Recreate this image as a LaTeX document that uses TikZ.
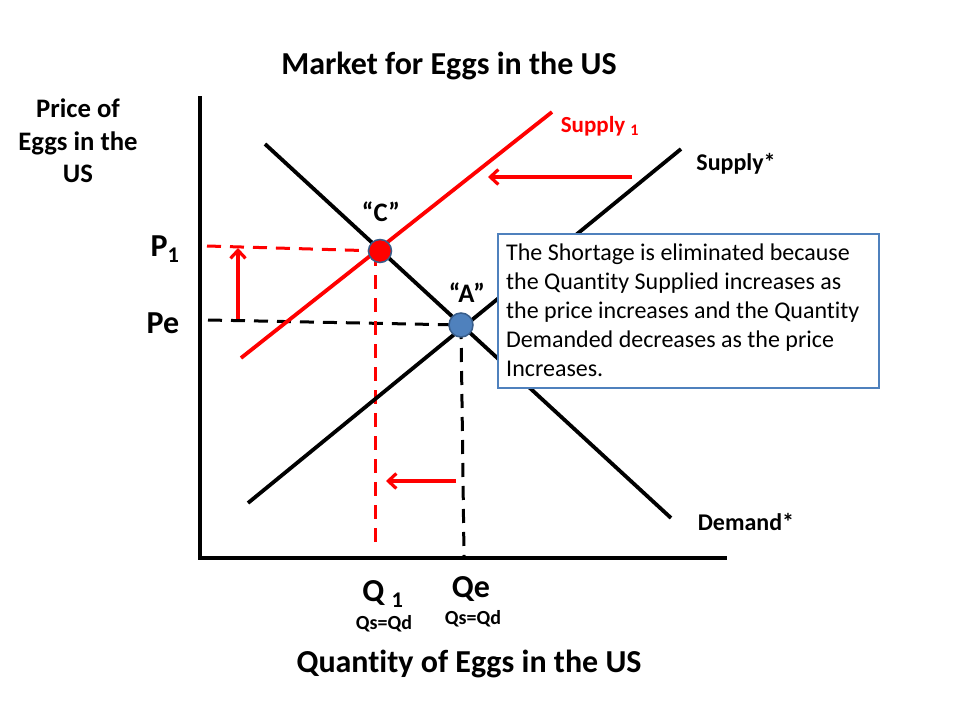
\documentclass[tikz,border=0pt]{standalone}
\usepackage{fontspec}
\setmainfont{Carlito}[Ligatures=NoCommon]
\usetikzlibrary{arrows.meta}
\definecolor{myred}{RGB}{255,0,0}
\definecolor{myblue}{RGB}{79,129,189}
\definecolor{mydblue}{RGB}{56,93,138}
\newcommand{\fs}[2]{\fontsize{#1}{#2}\selectfont}
\begin{document}
\begin{tikzpicture}[x=1pt,y=-1pt,
  axis/.style={line width=4.5pt},
  curve/.style={line width=3.8pt},
  redcurve/.style={line width=3.8pt,myred},
  guide/.style={line width=3pt,dash pattern=on 14pt off 9pt},
  redarrow/.style={line width=3.2pt,myred,-{Straight Barb[length=8pt,width=15pt,line width=3.2pt]}},
  lbl/.style={inner sep=0pt,font=\bfseries},
  pt/.style={circle,inner sep=0pt,minimum size=24pt,draw=mydblue,line width=1.5pt}]
\useasboundingbox (0,0) rectangle (960,720);
\fill[white] (0,0) rectangle (960,720);
% coordinates
\coordinate (O) at (200,558);
\coordinate (ytop) at (200,96);
\coordinate (xend) at (727,558);
\coordinate (D1) at (265,144);
\coordinate (D2) at (671,518);
\coordinate (S1) at (248,503);
\coordinate (S2) at (681,149);
\coordinate (R1) at (241,358);
\coordinate (R2) at (552,112);
\coordinate (P1L) at (207,246);
\coordinate (PeL) at (208,320);
\coordinate (Q1B) at (375,542);
\coordinate (QeB) at (464,556);
\coordinate (Cc) at (380,251);
\coordinate (Ac) at (461,325);
\coordinate (Cv) at (375,252);
\coordinate (a1s) at (632,177);
\coordinate (a1e) at (488,177);
\coordinate (a2s) at (456,481);
\coordinate (a2e) at (386,481);
\coordinate (a3s) at (238,319);
\coordinate (a3e) at (238,248);
% axes
\draw[axis] (ytop) -- (O) -- (xend);
% dashed guides
\draw[guide] (PeL) -- (Ac);
\draw[guide] (Ac) -- (QeB);
\draw[guide,myred] (P1L) -- (Cc);
\draw[guide,myred] (Cv) -- (Q1B);
% curves
\draw[curve] (D1) -- (D2);
\draw[curve] (S1) -- (S2);
\draw[redcurve] (R1) -- (R2);
% text box
\node[draw=myblue,line width=2pt,fill=white,anchor=north west,minimum width=381pt,minimum height=154pt,inner sep=0pt] (box) at (497,233) {};
\node[anchor=north west,align=left,inner sep=0pt,font=\fs{24}{28.8}] (boxtxt) at (506,244) {The Shortage is eliminated because\\the Quantity Supplied increases as\\the price increases and the Quantity\\Demanded decreases as the price\\Increases.};
% points
\node[pt,fill=myred,minimum size=23pt] (C) at (Cc) {};
\node[pt,fill=myblue] (A) at (Ac) {};
% arrows
\draw[redarrow] (a1s) -- (a1e);
\draw[redarrow] (a2s) -- (a2e);
\draw[redarrow] (a3s) -- (a3e);
% labels
\node[lbl,font=\bfseries\fs{32}{38}] (title) at (449,66) {Market for Eggs in the US};
\node[lbl,font=\bfseries\fs{26.7}{32.5},align=center] (ylab) at (78,141) {Price of\\Eggs in the\\US};
\node[lbl,font=\bfseries\fs{32}{38}] (P1) at (165,249) {P\textsubscript{1}};
\node[lbl,font=\bfseries\fs{32}{38}] (Pe) at (163,323) {Pe};
\node[lbl,font=\bfseries\fs{26.7}{32}] (Clab) at (381,212) {“C”};
\node[lbl,font=\bfseries\fs{26.7}{32}] (Alab) at (467,293) {“A”};
\node[lbl,font=\bfseries\fs{23}{28},text=myred] (s1lab) at (600,126) {Supply \textsubscript{1}};
\node[lbl,font=\bfseries\fs{24}{28}] (slab) at (736,164) {Supply*};
\node[lbl,font=\bfseries\fs{24}{28}] (dlab) at (746,522) {Demand*};
\node[lbl,font=\bfseries\fs{32}{38}] (Q1) at (383,594) {Q \textsubscript{1}};
\node[lbl,font=\bfseries\fs{32}{38}] (Qe) at (471,589) {Qe};
\node[lbl,font=\bfseries\fs{20}{24}] (qq1) at (384,624) {Qs=Qd};
\node[lbl,font=\bfseries\fs{20}{24}] (qq2) at (473,619) {Qs=Qd};
\node[lbl,font=\bfseries\fs{32}{38}] (xlab) at (469,664) {Quantity of Eggs in the US};
\end{tikzpicture}
\end{document}
